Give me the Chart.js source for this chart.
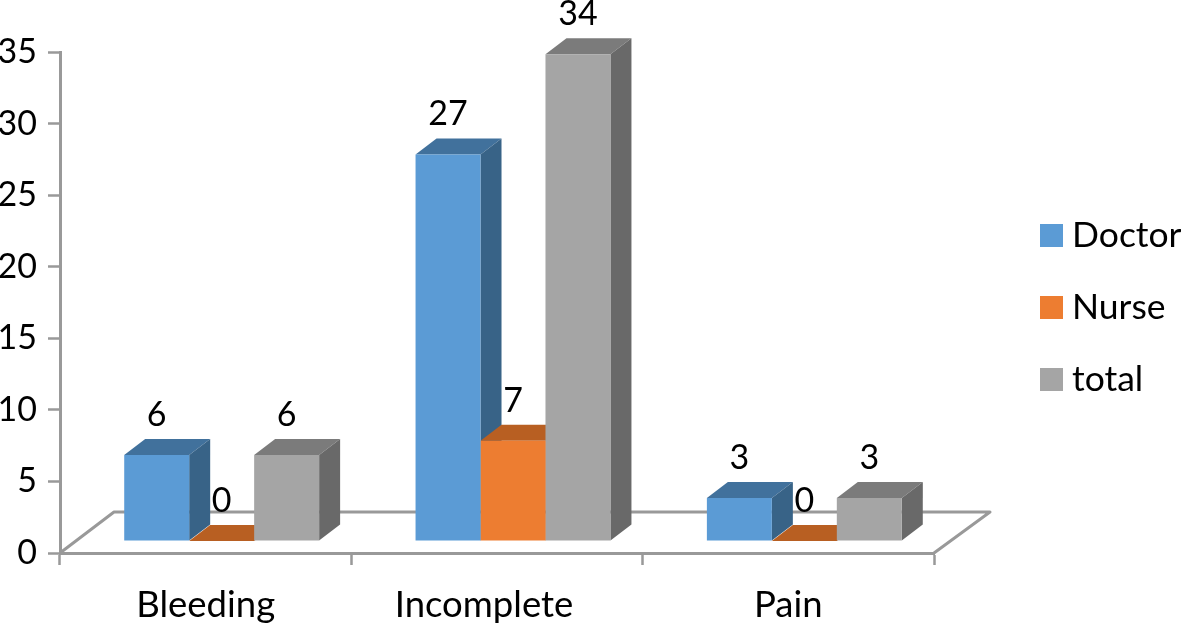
<!DOCTYPE html>
<html>
<head>
<meta charset="utf-8">
<title>Chart</title>
<script src="https://cdn.jsdelivr.net/npm/chart.js@4/dist/chart.umd.min.js"></script>
<style>
    html, body { margin: 0; padding: 0; background: #fff; overflow: hidden; }
    canvas { display: block; }
</style>
</head>
<body>
<canvas id="grafico" width="1181" height="623"></canvas>
<script>
const categorias = ['Bleeding', 'Incomplete', 'Pain'];
const doctor = [6, 27, 3];
const nurse = [0, 7, 0];
const total = [6, 34, 3];

const FUENTE = 'Lato';
const TAM = 34;
const TAM_X = 36.5;
const TAM_LEYENDA = 35.5;
const GRIS_EJE = '#999999';
// desplazamiento de las barras respecto a los ejes y profundidad del efecto 3D
const OFFSET = { x: 16, y: -12 };
const PROF = { x: 21, y: -16 };

// piso y pared del fondo, y caras 3D (las caras frontales se dibujan encima)
const piso = {
    id: 'piso',
    beforeDatasetsDraw(chart) {
        const { left, right, bottom } = chart.chartArea;
        const ctx = chart.ctx;
        ctx.save();
        ctx.strokeStyle = GRIS_EJE;
        ctx.lineWidth = 3;
        ctx.lineJoin = 'round';
        ctx.beginPath();
        ctx.moveTo(left, bottom);
        ctx.lineTo(left + 54, bottom - 41);
        ctx.lineTo(right + 56, bottom - 41);
        ctx.lineTo(right, bottom);
        ctx.stroke();
        ctx.restore();
        // todas las barras van corridas hacia el centro del piso
        ctx.save();
        ctx.translate(OFFSET.x, OFFSET.y);
        chart.data.datasets.forEach((ds, i) => {
            chart.getDatasetMeta(i).data.forEach(bar => {
                const izq = bar.x - bar.width / 2;
                const der = bar.x + bar.width / 2;
                // cara superior
                ctx.fillStyle = ds.colorTop;
                ctx.beginPath();
                ctx.moveTo(izq, bar.y);
                ctx.lineTo(der, bar.y);
                ctx.lineTo(der + PROF.x, bar.y + PROF.y);
                ctx.lineTo(izq + PROF.x, bar.y + PROF.y);
                ctx.closePath();
                ctx.fill();
                // cara lateral
                ctx.fillStyle = ds.colorLado;
                ctx.beginPath();
                ctx.moveTo(der, bar.y);
                ctx.lineTo(der + PROF.x, bar.y + PROF.y);
                ctx.lineTo(der + PROF.x, bar.base + PROF.y);
                ctx.lineTo(der, bar.base);
                ctx.closePath();
                ctx.fill();
            });
        });
    },
    afterDatasetsDraw(chart) {
        const ctx = chart.ctx;
        // etiquetas de valores
        ctx.font = TAM + 'px ' + FUENTE;
        ctx.fillStyle = '#000';
        ctx.textAlign = 'center';
        ctx.textBaseline = 'middle';
        chart.data.datasets.forEach((ds, i) => {
            chart.getDatasetMeta(i).data.forEach((bar, j) => {
                ctx.fillText(ds.data[j], bar.x, bar.y - 40);
            });
        });
        ctx.restore();
    }
};

// leyenda a la derecha
const leyenda = {
    id: 'leyenda',
    afterDraw(chart) {
        const ctx = chart.ctx;
        ctx.save();
        ctx.font = TAM_LEYENDA + 'px ' + FUENTE;
        ctx.textAlign = 'left';
        ctx.textBaseline = 'middle';
        chart.data.datasets.forEach((ds, i) => {
            const y = 235.5 + i * 72;
            ctx.fillStyle = ds.backgroundColor;
            ctx.fillRect(1040, y - 11.5, 23, 23);
            ctx.fillStyle = '#000';
            ctx.fillText(ds.label, 1072, y);
        });
        ctx.restore();
    }
};

// "Incomplete" aparece corrido a la izquierda en el original
const etiquetaX = {
    id: 'etiquetaX',
    beforeDraw(chart) {
        const items = chart.scales.x.getLabelItems(chart.chartArea);
        if (!chart.$corrido) {
            items[1].options.translation[0] -= 13;
            chart.$corrido = true;
        }
    }
};

new Chart(document.getElementById('grafico'), {
    type: 'bar',
    data: {
        labels: categorias,
        datasets: [
            { label: 'Doctor', data: doctor, backgroundColor: '#5B9BD5', colorTop: '#41719C', colorLado: '#386387', clip: false },
            { label: 'Nurse', data: nurse, backgroundColor: '#ED7D31', colorTop: '#B85F22', colorLado: '#A5541E', clip: false },
            { label: 'total', data: total, backgroundColor: '#A5A5A5', colorTop: '#7B7B7B', colorLado: '#696969', clip: false }
        ]
    },
    options: {
        responsive: false,
        animation: false,
        layout: { padding: { top: 52, right: 247 } },
        categoryPercentage: 0.669,
        barPercentage: 1,
        plugins: {
            legend: { display: false },
            tooltip: { enabled: false }
        },
        scales: {
            x: {
                afterFit(scale) { scale.height = 70; },
                border: { color: GRIS_EJE, width: 3 },
                grid: { drawOnChartArea: false, tickLength: 12, tickColor: GRIS_EJE, tickWidth: 2.5 },
                ticks: { color: '#000', font: { family: FUENTE, size: TAM_X }, maxRotation: 0, padding: 18 }
            },
            y: {
                min: 0,
                max: 35,
                afterFit(scale) { scale.width = 60; },
                border: { color: GRIS_EJE, width: 3 },
                grid: { drawOnChartArea: false, tickLength: 12, tickColor: GRIS_EJE, tickWidth: 2.5 },
                ticks: { stepSize: 5, color: '#000', font: { family: FUENTE, size: TAM }, padding: 11 }
            }
        }
    },
    plugins: [piso, leyenda, etiquetaX]
});
</script>
</body>
</html>
